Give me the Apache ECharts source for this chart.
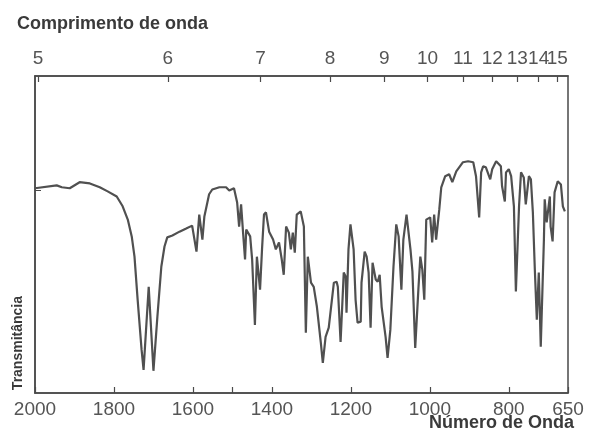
<!DOCTYPE html>
<html>
<head>
<meta charset="utf-8">
<script src="https://cdn.jsdelivr.net/npm/echarts@6/dist/echarts.min.js"></script>
<style>
  html, body { margin: 0; padding: 0; background: #fff; }
  #chart { width: 590px; height: 439px; }
</style>
</head>
<body>
<div id="chart"></div>
<script>
// wavenumber (cm-1)
var waveNumbers = [
  2000, 1945, 1932, 1912, 1887, 1861, 1836, 1816, 1793, 1778, 1765, 1755, 1748, 1740, 1730, 1725,
  1712, 1700, 1690, 1680, 1672, 1665, 1652, 1634, 1617, 1602, 1591, 1584, 1576, 1571, 1559,
  1551, 1533, 1516, 1508, 1496, 1488, 1483, 1478, 1473, 1468, 1465, 1455, 1450, 1443, 1438,
  1430, 1425, 1420, 1415, 1407, 1397, 1390, 1382, 1375, 1370, 1364, 1357, 1352, 1347, 1342,
  1337, 1327, 1319, 1314, 1309, 1301, 1294, 1286, 1276, 1271, 1264, 1256, 1243, 1236,
  1233, 1226, 1218, 1213, 1211, 1206, 1201, 1193, 1188, 1183, 1175, 1173, 1165, 1160, 1155,
  1150, 1145, 1137, 1132, 1127, 1122, 1112, 1107, 1100, 1092, 1085, 1079, 1072, 1067, 1059,
  1049, 1044, 1037, 1029, 1024, 1019, 1014, 1009, 999, 994, 989, 984, 976, 971, 961, 951,
  943, 933, 916, 903, 890, 883, 875, 870, 865, 858, 847, 842, 832, 820, 817, 810, 807, 800,
  794, 787, 782, 774, 769, 762, 757, 749, 744, 739, 734, 729, 724, 719, 711, 709, 704, 696,
  694, 689, 684, 676, 668, 663, 658
];
// transmittance (%) at each wavenumber above
var transmittance = [
  64.6, 65.5, 64.9, 64.6, 66.5, 66.1, 64.9, 63.6, 62.0, 58.9, 54.7, 49.4, 43.0, 29.4, 13.6, 7.3,
  33.5, 7.0, 24.1, 39.9, 46.2, 49.1, 49.7, 50.9, 51.9, 52.8, 44.6, 56.3, 48.4, 55.7, 62.7,
  64.2, 64.9, 64.9, 63.9, 64.6, 60.1, 52.5, 59.5, 50.6, 42.1, 51.6, 49.4, 42.1, 21.5, 43.0,
  32.6, 45.3, 56.3, 57.0, 50.9, 48.4, 45.3, 47.5, 42.1, 37.3, 52.5, 50.6, 45.3, 50.6, 44.3,
  56.3, 57.3, 52.5, 19.0, 43.0, 34.8, 33.5, 27.2, 15.8, 9.5, 17.7, 20.6, 34.8, 35.1,
  33.5, 16.1, 38.0, 36.7, 25.3, 45.3, 53.2, 45.3, 29.4, 22.2, 22.5, 34.8, 44.6, 43.0, 38.0,
  20.6, 41.1, 35.8, 35.1, 37.3, 27.2, 17.7, 11.1, 19.9, 39.9, 53.2, 49.4, 32.6, 48.4, 56.3,
  45.3, 38.3, 14.2, 32.6, 43.0, 38.9, 29.4, 54.7, 55.4, 47.5, 56.3, 48.4, 57.9, 64.9, 68.4, 69.0,
  66.5, 69.9, 72.8, 73.1, 72.8, 68.4, 55.4, 69.6, 71.5, 71.2, 67.4, 70.6, 73.1, 71.5, 65.2, 60.4, 69.6, 70.6,
  68.4, 58.9, 32.0, 58.9, 69.6, 68.0, 59.5, 68.4, 67.4, 57.0, 38.9, 23.1, 38.0, 14.6, 48.4, 61.1, 53.8, 62.0,
  52.5, 47.8, 63.3, 66.8, 65.8, 58.9, 57.3
];
// bottom axis tick labels (cm-1)
var bottomTicks = [2000, 1800, 1600, 1400, 1200, 1000, 800, 650];
var bottomMinorTicks = [1500];
// top axis: wavelength (micrometres)
var wavelengths = [5, 6, 7, 8, 9, 10, 11, 12, 13, 14, 15];

var topValues = wavelengths.map(function (w) { return 10000 / w; });
// labels are packed tight near 15 µm, so they are shared between two
// overlaid top axes to stop echarts dropping one of them
var topOdd = topValues.filter(function (v, i) { return i % 2 === 0; });
var topEven = topValues.filter(function (v, i) { return i % 2 === 1; });
var seriesData = waveNumbers.map(function (wn, i) { return [wn, transmittance[i]]; });

var chart = echarts.init(document.getElementById("chart"));
var ink = "#4a4a4a";
var textColor = "#3a3a3a";
var labelFont = "Liberation Sans, Arial, sans-serif";

function topAxis(values, showLine) {
  return {
    // the printed wavelength scale sits a few pixels left of the wavenumber scale
    type: "value", position: "top", offset: 0, min: 639, max: 2008, inverse: true,
    axisLine: { show: showLine, lineStyle: { color: ink, width: 1.5 } },
    axisTick: { show: showLine, inside: true, length: 6, lineStyle: { color: ink, width: 1.2 },
      customValues: topValues },
    axisLabel: { show: true, customValues: values, margin: 8,
      showMinLabel: true, showMaxLabel: true, hideOverlap: false,
      formatter: function (v) { return String(Math.round(10000 / v)); },
      color: "#555", fontFamily: labelFont, fontSize: 19 },
    splitLine: { show: false }
  };
}

var option = {
  backgroundColor: "#fff",
  animation: false,
  grid: {
    left: 35, right: 22, top: 76, bottom: 46,
    show: true, borderColor: ink, borderWidth: 1.5
  },
  xAxis: [
    {
      type: "value", position: "bottom", min: 650, max: 2000, inverse: true,
      axisLine: { show: true, lineStyle: { color: ink, width: 1.5 } },
      axisTick: { show: true, inside: true, length: 6, lineStyle: { color: ink, width: 1.2 },
        customValues: bottomTicks.concat(bottomMinorTicks) },
      axisLabel: { show: true, customValues: bottomTicks, margin: 7,
        showMinLabel: true, showMaxLabel: true,
        formatter: function (v) { return String(Math.round(v)); },
        color: "#555", fontFamily: labelFont, fontSize: 19 },
      splitLine: { show: false }
    },
    topAxis(topOdd, true),
    topAxis(topEven, false)
  ],
  yAxis: {
    type: "value", min: 0, max: 100,
    axisLine: { show: true, lineStyle: { color: ink, width: 1.5 } },
    axisTick: { show: true, inside: true, length: 6, lineStyle: { color: ink }, customValues: [64] },
    axisLabel: { show: false },
    splitLine: { show: false }
  },
  graphic: [
    { type: "text", left: 17, top: 15,
      style: { text: "Comprimento de onda", fill: textColor,
        font: "bold 18px " + labelFont } },
    { type: "text", right: 16, top: 414,
      style: { text: "Número de Onda", fill: textColor,
        font: "bold 18px " + labelFont } },
    { type: "text", left: 11, top: 296, rotation: Math.PI / 2,
      style: { text: "Transmitância", fill: textColor,
        font: "bold 14px " + labelFont } }
  ],
  series: [
    {
      type: "line",
      xAxisIndex: 0,
      data: seriesData,
      showSymbol: false,
      smooth: false,
      lineStyle: { color: "#505050", width: 2.2 }
    }
  ]
};
option && chart.setOption(option);
</script>
</body>
</html>
